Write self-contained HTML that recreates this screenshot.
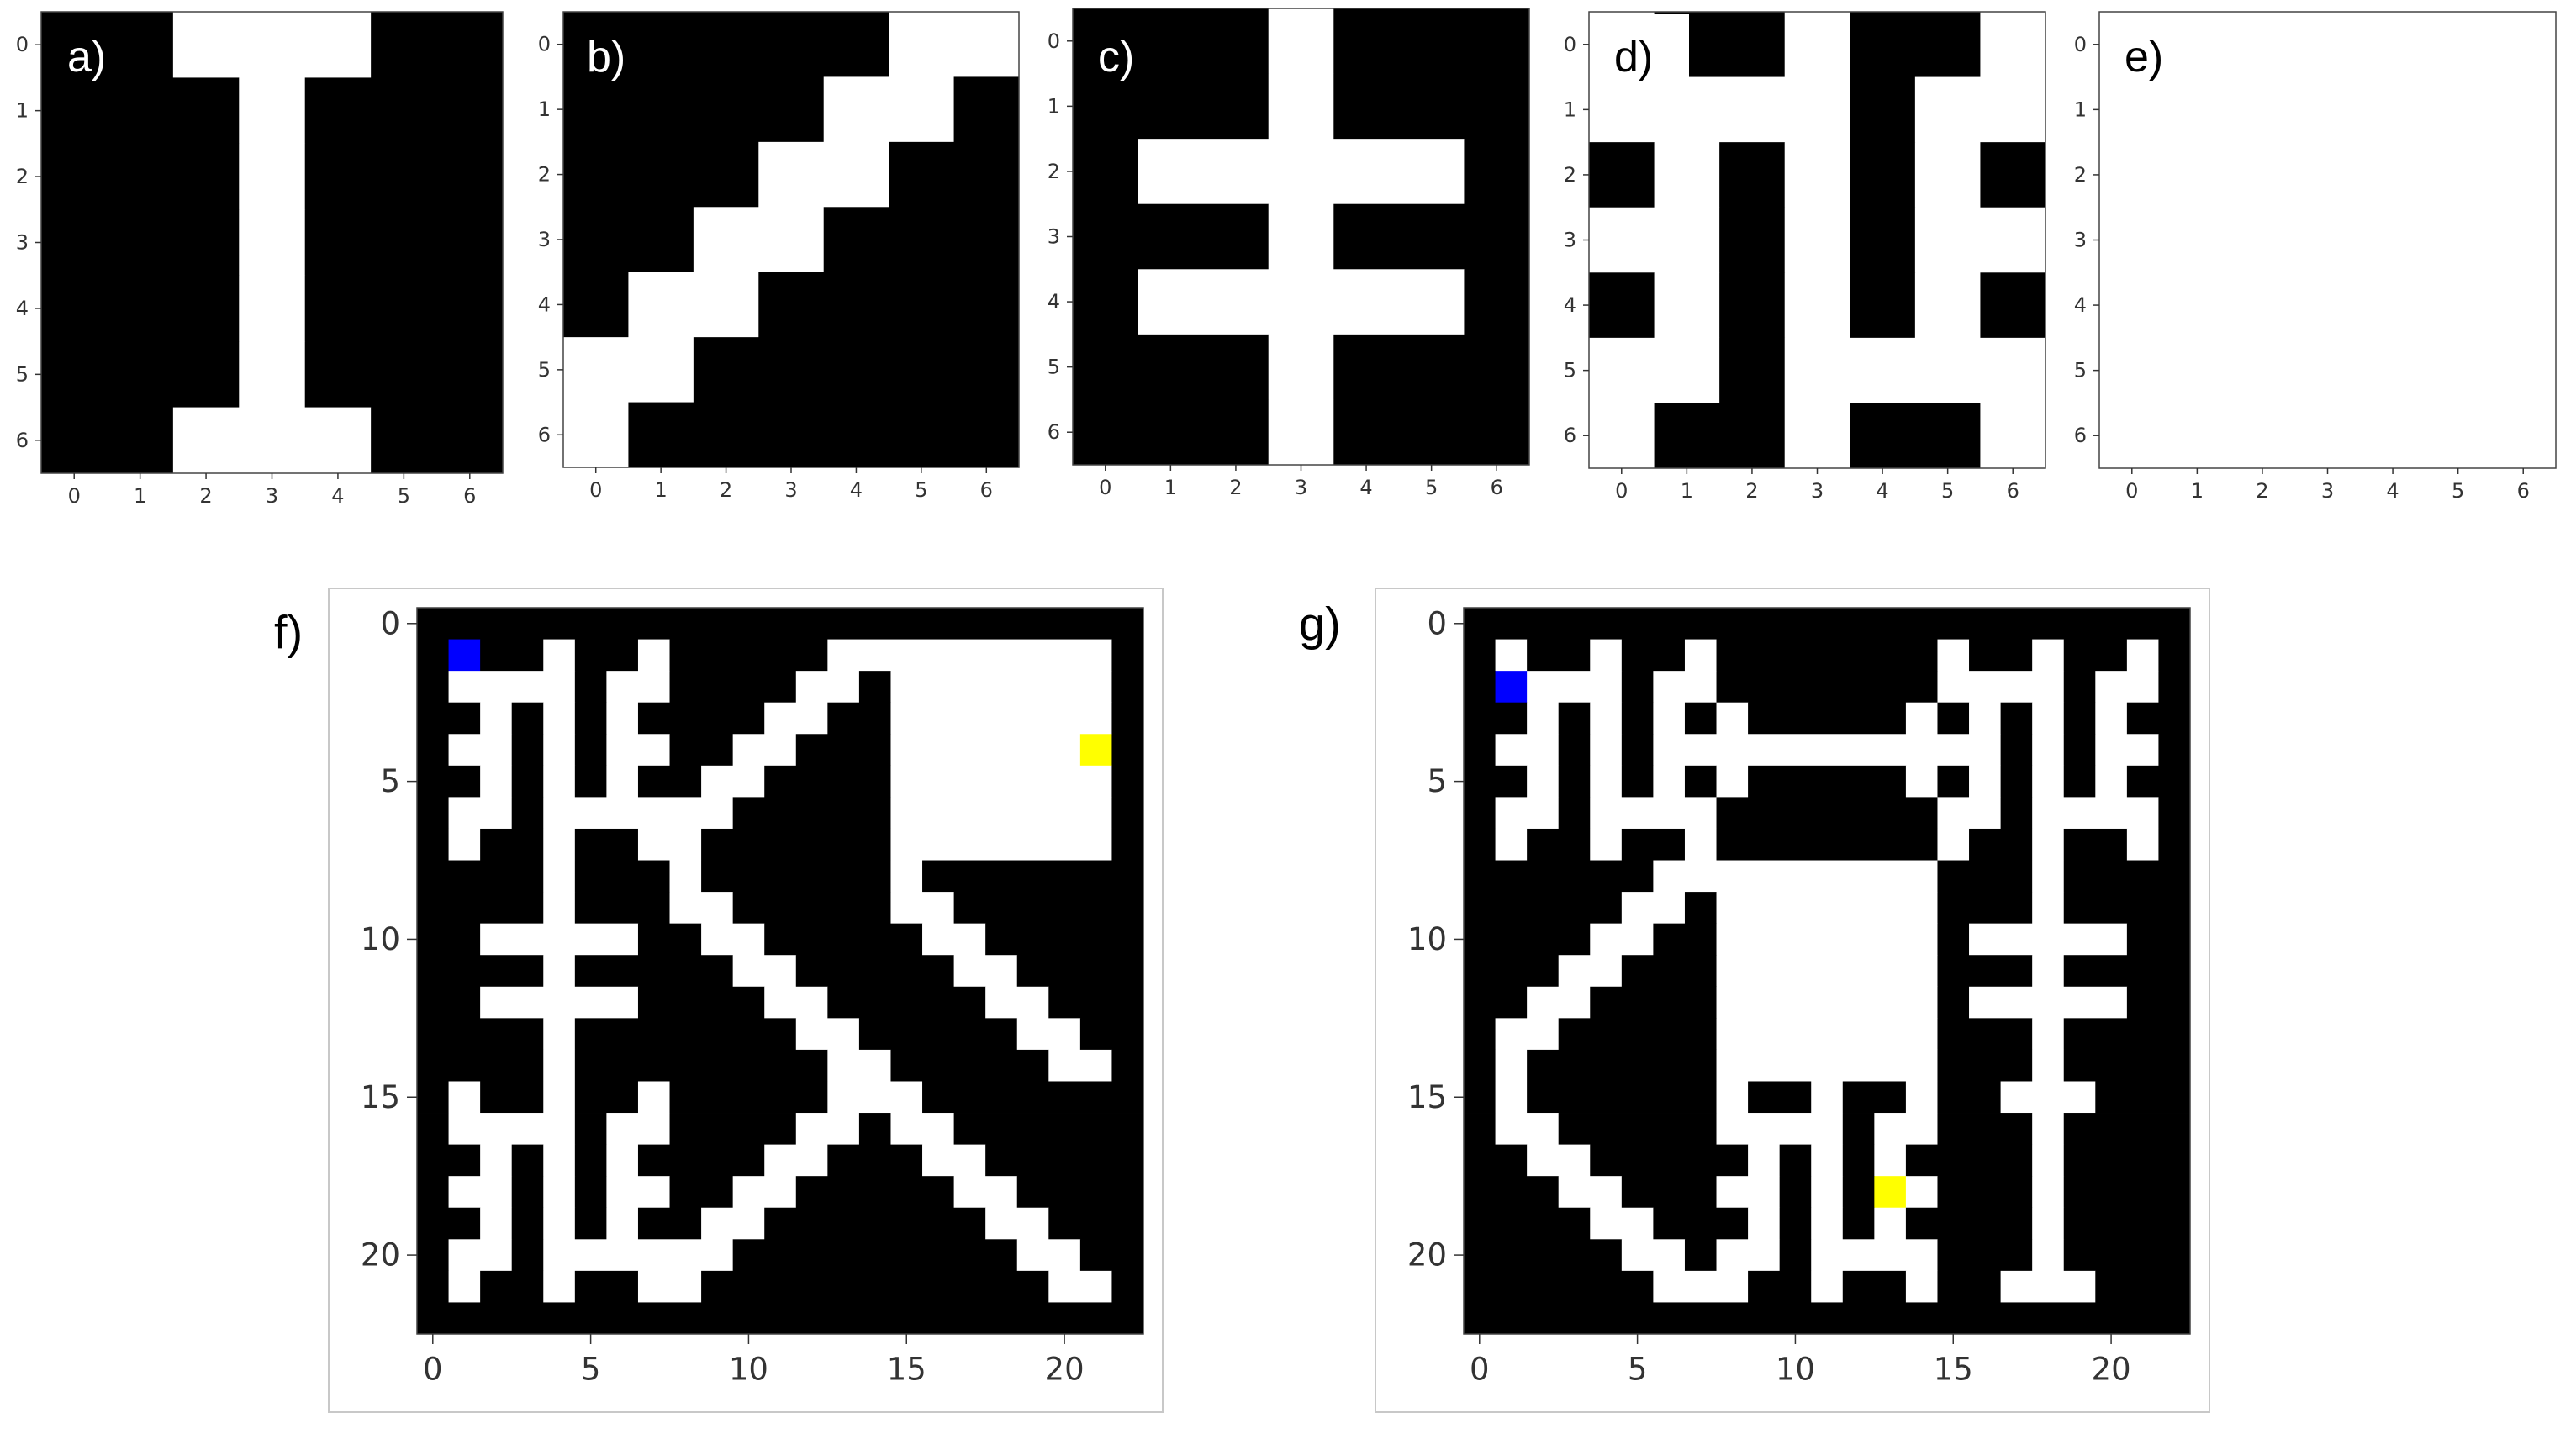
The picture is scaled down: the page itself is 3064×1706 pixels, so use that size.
<!DOCTYPE html>
<html><head><meta charset="utf-8"><style>
html,body{margin:0;padding:0;background:#fff;}
svg{display:block;font-family:"DejaVu Sans","Liberation Sans",sans-serif;}
</style></head><body>
<svg id="root" width="3064" height="1706" viewBox="0 0 3064 1706" xmlns="http://www.w3.org/2000/svg">
<rect x="0" y="0" width="3064" height="1706" fill="#fff"/>
<rect x="391" y="700" width="992" height="980" fill="none" stroke="#c8c8c8" stroke-width="2"/>
<rect x="1636" y="700" width="992" height="980" fill="none" stroke="#c8c8c8" stroke-width="2"/>
</svg>
<script>
// grid data: '#' = black (wall), '.' = white (path), 'B' = start (blue), 'Y' = goal (yellow)
const gridA = ["##...##","###.###","###.###","###.###","###.###","###.###","##...##"];
const gridB = ["#####..","####..#","###..##","##..###","#..####","..#####",".######"];
const gridC = ["###.###","###.###","#.....#","###.###","#.....#","###.###","###.###"];
const gridD = [".##.##.","....#..","#.#.#.#","..#.#..","#.#.#.#","..#....",".##.##."];
const gridE = [".......",".......",".......",".......",".......",".......","......."];
const mazeF = [
"#######################",
"#B##.##.#####.........#",
"#....#..####..#.......#",
"##.#.#.####..##.......#",
"#..#.#..##..###......Y#",
"##.#.#.##..####.......#",
"#..#......#####.......#",
"#.##.##..######.......#",
"####.###.######.#######",
"####.###..#####..######",
"##.....##..#####..#####",
"####.#####..#####..####",
"##.....####..#####..###",
"####.#######..#####..##",
"####.########..#####..#",
"#.##.##.#####...#######",
"#....#..####..#..######",
"##.#.#.####..###..#####",
"#..#.#..##..#####..####",
"##.#.#.##..#######..###",
"#..#......#########..##",
"#.##.##..###########..#",
"#######################"];
const mazeG = [
"#######################",
"#.##.##.#######.##.##.#",
"#B...#..#######....#..#",
"##.#.#.#.#####.#.#.#.##",
"#..#.#...........#.#..#",
"##.#.#.#.#####.#.#.#.##",
"#..#....#######..#....#",
"#.##.##.#######.##.##.#",
"######.........###.####",
"#####..#.......###.####",
"####..##.......#.....##",
"###..###.......###.####",
"##..####.......#.....##",
"#..#####.......###.####",
"#.######.......###.####",
"#.######.##.##.##...###",
"#..#####....#..###.####",
"##..#####.#.#.####.####",
"###..###..#.#Y.###.####",
"####..###.#.#.####.####",
"#####..#..#....###.####",
"######...##.##.##...###",
"#######################"];
const smallTicks = [0,1,2,3,4,5,6];
const mazeTicks = [0,5,10,15,20];
const labels = ["a)","b)","c)","d)","e)","f)","g)"];

const NS = "http://www.w3.org/2000/svg";
const root = document.getElementById('root');
const colorOf = {'#':'#000','.':'#fff','B':'#0000ff','Y':'#ffff00'};
function mk(tag, attrs, parent){
  const e = document.createElementNS(NS, tag);
  for (const k in attrs) e.setAttribute(k, attrs[k]);
  (parent||root).appendChild(e);
  return e;
}
function drawGrid(grid, ticks, x0, y0, size, name, tickFont, tickLen, labelGap){
  const n = grid.length;
  const cell = size / n;
  const xScale = c => x0 + c * cell;
  const yScale = r => y0 + r * cell;
  const g = mk('g', {});
  
  
  for (let r = 0; r < n; r++) {
    const row = grid[r];
    let c = 0;
    while (c < n) {
      const ch = row[c]; let c2 = c;
      while (c2 + 1 < n && row[c2 + 1] === ch) c2++;
      const rect = mk('rect', {x: xScale(c).toFixed(2), y: yScale(r).toFixed(2), width: (cell*(c2-c+1)+0.4).toFixed(2), height: (cell+0.4).toFixed(2), fill: colorOf[ch]}, g);
      
      
      c = c2 + 1;
    }
  }
  const fr = mk('rect', {x: x0, y: y0, width: size, height: size, fill: 'none', stroke: '#444', 'stroke-width': 1.5}, g);
  
  
  for (const t of ticks) {
    const cx = xScale(t + 0.5), cy = yScale(t + 0.5);
    const tl1 = mk('line', {x1: cx, y1: y0+size, x2: cx, y2: y0+size+tickLen, stroke: '#333', 'stroke-width': 1.5}, g);
    
    
    const tx = mk('text', {x: cx, y: y0+size+tickLen+labelGap, 'font-size': tickFont, fill: '#333', 'text-anchor': 'middle', 'dominant-baseline': 'central'}, g);
    tx.textContent = t;
    
    
    const tl2 = mk('line', {x1: x0-tickLen, y1: cy, x2: x0, y2: cy, stroke: '#333', 'stroke-width': 1.5}, g);
    
    
    const ty = mk('text', {x: x0-tickLen-8, y: cy, 'font-size': tickFont, fill: '#333', 'text-anchor': 'end', 'dominant-baseline': 'central'}, g);
    ty.textContent = t;
    
    
  }
}
drawGrid(gridA, smallTicks, 49, 14, 549, 'panel-a-grid', 24, 7, 20);
drawGrid(gridB, smallTicks, 670, 14, 542, 'panel-b-grid', 24, 7, 20);
drawGrid(gridC, smallTicks, 1276, 10, 543, 'panel-c-grid', 24, 7, 20);
drawGrid(gridD, smallTicks, 1890, 14, 543, 'panel-d-grid', 24, 7, 20);
drawGrid(gridE, smallTicks, 2497, 14, 543, 'panel-e-grid', 24, 7, 20);
drawGrid(mazeF, mazeTicks, 496, 723, 864, 'panel-f-maze', 37, 12, 30);
drawGrid(mazeG, mazeTicks, 1741, 723, 864, 'panel-g-maze', 37, 12, 30);

// white box behind d) label
const dbox = mk('rect', {x: 1891, y: 17, width: 118, height: 75, fill: '#fff'});



const labelPos = [[80,68,'#fff'],[698,68,'#fff'],[1306,68,'#fff'],[1920,68,'#000'],[2527,68,'#000'],[326,752,'#000'],[1545,742,'#000']];
labels.forEach((s, i) => {
  const p = labelPos[i];
  const t = mk('text', {x: p[0], y: p[1], 'font-size': i < 5 ? 52 : 56, fill: p[2], 'dominant-baseline': 'central', 'font-family': '"Liberation Sans", sans-serif'});
  t.textContent = s;
  
  
});
</script>
</body></html>
